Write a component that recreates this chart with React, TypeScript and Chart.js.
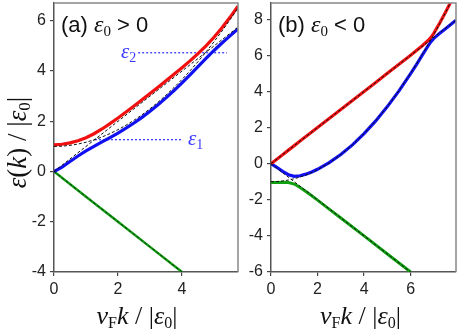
import React, { useEffect, useRef } from "react";
import { Chart, registerables } from "chart.js";
Chart.register(...registerables);

// ---------- Panel (a): eps0 > 0 ----------
const kA = [0, 0.25, 0.5, 0.75, 1, 1.25, 1.5, 1.75, 2, 2.25, 2.5, 2.75, 3, 3.25, 3.5, 3.75, 4, 4.25, 4.5, 4.75, 5, 5.25, 5.5, 5.75];
const redA = [1.06, 1.085, 1.14, 1.225, 1.346, 1.505, 1.695, 1.907, 2.134, 2.369, 2.61, 2.854, 3.104, 3.354, 3.61, 3.869, 4.134, 4.407, 4.695, 5.005, 5.346, 5.725, 6.14, 6.585];
const blueA = [0, 0.175, 0.4, 0.619, 0.82, 1.005, 1.18, 1.353, 1.533, 1.725, 1.932, 2.156, 2.396, 2.656, 2.932, 3.225, 3.533, 3.853, 4.18, 4.505, 4.82, 5.119, 5.4, 5.675];
const bareParA = [1, 1.01, 1.042, 1.094, 1.167, 1.26, 1.375, 1.51, 1.667, 1.844, 2.042, 2.26, 2.5, 2.76, 3.042, 3.344, 3.667, 4.01, 4.375, 4.76, 5.167, 5.594, 6.042, 6.51];
const kLinA = [0, 5.75];
const linA = [0, 5.75];
const kGreenA = [0, 1, 2, 3, 4];
const greenA = [0, -1, -2, -3, -4];
const eps1 = 1.27;
const eps1Span = [1.28, 4.0];
const eps2 = 4.73;
const eps2Span = [2.63, 5.4];
const xTicksA = [0, 2, 4];
const yTicksA = [-4, -2, 0, 2, 4, 6];

// ---------- Panel (b): eps0 < 0 ----------
const kB = [0, 0.25, 0.5, 0.75, 1, 1.25, 1.5, 1.75, 2, 2.5, 3, 3.5, 4, 4.5, 5, 5.5, 6, 6.25, 6.5, 6.75, 6.875, 7, 7.25, 7.5, 7.75, 7.95];
const redB = [0, 0.25, 0.5, 0.75, 1, 1.25, 1.5, 1.75, 2, 2.5, 3, 3.5, 4, 4.5, 5.01, 5.51, 6.01, 6.27, 6.53, 6.82, 7.0, 7.23, 7.79, 8.39, 9.02, 9.54];
const blueB = [0, -0.2, -0.425, -0.61, -0.7, -0.67, -0.58, -0.46, -0.31, 0.06, 0.51, 1.04, 1.67, 2.37, 3.16, 4.03, 4.99, 5.49, 6.01, 6.53, 6.76, 6.94, 7.22, 7.48, 7.74, 7.945];
const bareParB = [-1, -0.99, -0.958, -0.906, -0.833, -0.74, -0.625, -0.49, -0.333, 0.042, 0.5, 1.042, 1.667, 2.375, 3.167, 4.042, 5.0, 5.51, 6.042, 6.594, 6.877, 7.167, 7.76, 8.375, 9.01, 9.53];
const kLinPB = [0, 7.95];
const linPB = [0, 7.95];
const kGreenB = [0, 0.25, 0.5, 0.75, 1, 1.25, 1.5, 1.75, 2, 2.5, 3, 4, 5, 6];
const greenB = [-1.04, -1.04, -1.035, -1.045, -1.13, -1.32, -1.54, -1.78, -2.02, -2.52, -3.01, -4, -5, -6];
const kLinNB = [0, 6];
const linNB = [0, -6];
const xTicksB = [0, 2, 4, 6];
const yTicksB = [-6, -4, -2, 0, 2, 4, 6, 8];

const SANS = '"Liberation Sans", Arial, sans-serif';
const SERIF = '"Liberation Serif", "Times New Roman", serif';
const RED = "#f01010";
const BLUE = "#1010f0";
const GREEN = "#10a010";
const DOT = "#3a3aff";

type Seg = { t: string; f: string; dy?: number };

function drawRich(ctx: CanvasRenderingContext2D, segs: Seg[], x: number, y: number, align: string, color: string) {
  ctx.save();
  ctx.fillStyle = color;
  ctx.textBaseline = "alphabetic";
  ctx.textAlign = "left";
  let w = 0;
  const ws = segs.map((s) => {
    ctx.font = s.f;
    const m = ctx.measureText(s.t).width;
    w += m;
    return m;
  });
  let cx = align === "center" ? x - w / 2 : align === "right" ? x - w : x;
  segs.forEach((s, i) => {
    ctx.font = s.f;
    ctx.fillText(s.t, cx, y + (s.dy || 0));
    cx += ws[i];
  });
  ctx.restore();
}

const pts = (xs: number[], ys: number[]) => xs.map((x, i) => ({ x, y: ys[i] }));

const xTitle: Seg[] = [
  { t: "v", f: `italic 26px ${SERIF}` },
  { t: "F", f: `16px ${SERIF}`, dy: 4 },
  { t: "k", f: `italic 26px ${SERIF}` },
  { t: " / |", f: `26px ${SERIF}` },
  { t: "ε", f: `italic 26px ${SERIF}` },
  { t: "0", f: `16px ${SERIF}`, dy: 4 },
  { t: "|", f: `26px ${SERIF}` },
];
const yTitle: Seg[] = [
  { t: "ε", f: `italic 27px ${SERIF}` },
  { t: "(", f: `27px ${SERIF}` },
  { t: "k", f: `italic 27px ${SERIF}` },
  { t: ") / |", f: `27px ${SERIF}` },
  { t: "ε", f: `italic 27px ${SERIF}` },
  { t: "0", f: `17px ${SERIF}`, dy: 4 },
  { t: "|", f: `27px ${SERIF}` },
];

function line(data: any[], color: string, width: number, order: number, dash: number[] = []) {
  return {
    data,
    borderColor: color,
    borderWidth: width,
    borderDash: dash,
    pointRadius: 0,
    fill: false,
    tension: 0,
    order,
  };
}

function makeConfig(p: any) {
  const axisCommon = {
    type: "linear",
    grid: { display: true, drawOnChartArea: false, drawTicks: true, tickLength: 4, color: "#444", lineWidth: 1.2 },
    border: { display: true, color: "#555", width: 1.5 },
    ticks: { font: { family: SANS, size: 16 }, color: "#222", autoSkip: false, maxRotation: 0 },
  };
  const framePlugin = {
    id: "frame",
    afterDraw(chart: any) {
      const { ctx, chartArea: a } = chart;
      ctx.save();
      ctx.strokeStyle = "#888";
      ctx.lineWidth = 1.5;
      ctx.beginPath();
      ctx.moveTo(a.left, a.top);
      ctx.lineTo(a.right, a.top);
      ctx.lineTo(a.right, a.bottom);
      ctx.stroke();
      ctx.restore();
      p.texts(chart);
    },
  };
  return {
    type: "line",
    data: { datasets: p.datasets },
    options: {
      responsive: false,
      animation: false,
      devicePixelRatio: 1,
      layout: { padding: { left: 0, right: 2, top: 3, bottom: 0 } },
      plugins: { legend: { display: false }, tooltip: { enabled: false } },
      scales: {
        x: {
          ...axisCommon,
          min: p.xmin,
          max: p.xmax,
          ticks: { ...axisCommon.ticks, padding: 4 },
          afterBuildTicks: (s: any) => {
            s.ticks = p.xTicks.map((v: number) => ({ value: v }));
          },
          afterFit: (s: any) => {
            s.height = 59;
            s.paddingLeft = 0;
            s.paddingRight = 0;
          },
        },
        y: {
          ...axisCommon,
          min: p.ymin,
          max: p.ymax,
          ticks: { ...axisCommon.ticks, padding: 4 },
          afterBuildTicks: (s: any) => {
            s.ticks = p.yTicks.map((v: number) => ({ value: v }));
          },
          afterFit: (s: any) => {
            s.width = p.yWidth;
            s.paddingTop = 0;
            s.paddingBottom = 0;
          },
        },
      },
    },
    plugins: [framePlugin],
  };
}

export default function App() {
  const refA = useRef<HTMLCanvasElement>(null);
  const refB = useRef<HTMLCanvasElement>(null);

  useEffect(() => {
    const cfgA = makeConfig({
      xmin: 0,
      xmax: 5.75,
      ymin: -4,
      ymax: 6.71,
      xTicks: xTicksA,
      yTicks: yTicksA,
      yWidth: 54,
      datasets: [
        line(pts(kA, redA), RED, 3.2, 2),
        line(pts(kA, blueA), BLUE, 3.2, 2),
        line(pts(kGreenA, greenA), GREEN, 2.5, 2),
        line(pts(kLinA, linA), "#111", 1, 1, [3, 2]),
        line(pts(kA, bareParA), "#111", 1, 1, [3, 2]),
        line(pts(kGreenA, greenA), "#111", 0.8, 1, [3, 2]),
        line(pts(eps1Span, [eps1, eps1]), DOT, 1.3, 3, [2, 2]),
        line(pts(eps2Span, [eps2, eps2]), DOT, 1.3, 3, [2, 2]),
      ],
      texts: (chart: any) => {
        const ctx = chart.ctx;
        const a = chart.chartArea;
        const xs = chart.scales.x;
        const ys = chart.scales.y;
        drawRich(
          ctx,
          [
            { t: "(a) ", f: `22px ${SANS}` },
            { t: "ε", f: `italic 24px ${SERIF}` },
            { t: "0", f: `15px ${SERIF}`, dy: 4 },
            { t: " > 0", f: `22px ${SANS}` },
          ],
          a.left + 7,
          a.top + 29,
          "left",
          "#111"
        );
        drawRich(ctx, xTitle, (a.left + a.right) / 2 - 9, a.bottom + 52, "center", "#111");
        ctx.save();
        ctx.translate(26, (a.top + a.bottom) / 2 + 5);
        ctx.rotate(-Math.PI / 2);
        drawRich(ctx, yTitle, 0, 0, "center", "#111");
        ctx.restore();
        drawRich(
          ctx,
          [
            { t: "ε", f: `italic 21px ${SERIF}` },
            { t: "1", f: `14px ${SERIF}`, dy: 4 },
          ],
          xs.getPixelForValue(eps1Span[1]) + 6,
          ys.getPixelForValue(eps1) + 5,
          "left",
          DOT
        );
        drawRich(
          ctx,
          [
            { t: "ε", f: `italic 21px ${SERIF}` },
            { t: "2", f: `14px ${SERIF}`, dy: 4 },
          ],
          xs.getPixelForValue(eps2Span[0]) - 2,
          ys.getPixelForValue(eps2) + 5,
          "right",
          DOT
        );
      },
    });
    const cfgB = makeConfig({
      xmin: 0,
      xmax: 7.95,
      ymin: -6,
      ymax: 8.9,
      xTicks: xTicksB,
      yTicks: yTicksB,
      yWidth: 31,
      datasets: [
        line(pts(kB, redB), RED, 3.2, 2),
        line(pts(kB, blueB), BLUE, 3.2, 2),
        line(pts(kGreenB, greenB), GREEN, 3, 2),
        line(pts(kLinPB, linPB), "#111", 1, 1, [3, 2]),
        line(pts(kLinNB, linNB), "#111", 1, 1, [3, 2]),
        line(pts(kB, bareParB), "#111", 1, 1, [3, 2]),
      ],
      texts: (chart: any) => {
        const ctx = chart.ctx;
        const a = chart.chartArea;
        drawRich(
          ctx,
          [
            { t: "(b) ", f: `22px ${SANS}` },
            { t: "ε", f: `italic 24px ${SERIF}` },
            { t: "0", f: `15px ${SERIF}`, dy: 4 },
            { t: " < 0", f: `22px ${SANS}` },
          ],
          a.left + 7,
          a.top + 29,
          "left",
          "#111"
        );
        drawRich(ctx, xTitle, (a.left + a.right) / 2 - 3, a.bottom + 52, "center", "#111");
      },
    });
    const cA = new Chart(refA.current as any, cfgA as any);
    const cB = new Chart(refB.current as any, cfgB as any);
    return () => {
      cA.destroy();
      cB.destroy();
    };
  }, []);

  return (
    <div style={{ position: "absolute", left: 0, top: 0, width: 458, height: 331, background: "#fff" }}>
      <canvas ref={refA} width={240} height={331} style={{ position: "absolute", left: 0, top: 0 }} />
      <canvas ref={refB} width={218} height={331} style={{ position: "absolute", left: 240, top: 0 }} />
    </div>
  );
}
